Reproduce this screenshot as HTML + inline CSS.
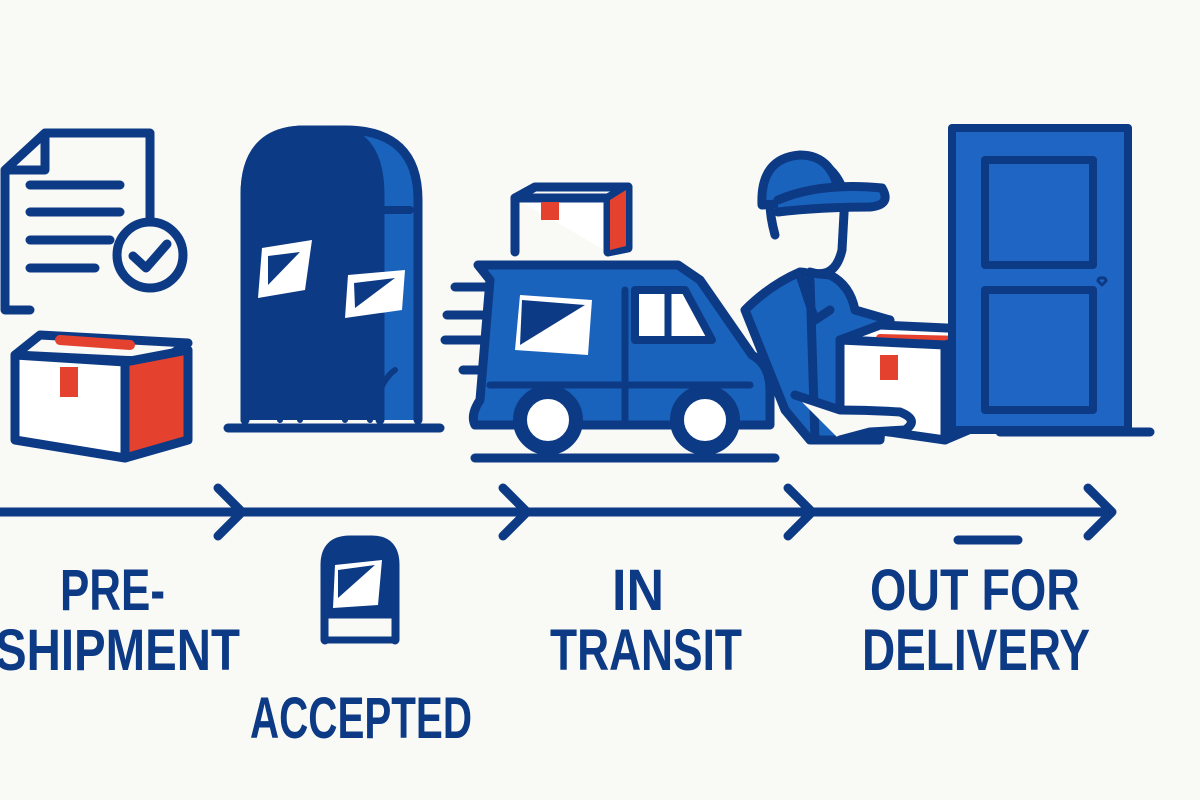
<!DOCTYPE html>
<html><head><meta charset="utf-8"><style>
html,body{margin:0;padding:0;background:#f9f9f6;}
svg{display:block}
text{font-family:"Liberation Sans",sans-serif;font-weight:bold;fill:#0d3a85;}
</style></head><body>
<svg width="1200" height="800" viewBox="0 0 1200 800" xmlns="http://www.w3.org/2000/svg">
<rect width="1200" height="800" fill="#f9f9f6"/>
<g stroke="#0d3a85" stroke-width="9" stroke-linecap="round" stroke-linejoin="round" fill="none">
<!-- document -->
<path d="M5 170 L45 133 L150 133 L150 225 M5 170 L5 310 L30 310 M5 170 L45 170 L45 133" fill="#f9f9f6"/>
<path d="M30 185 H120 M30 212 H120 M30 240 H110 M30 268 H95"/>
<circle cx="150" cy="255" r="33" fill="#f9f9f6"/>
<path d="M133 256 L146 268 L167 244"/>
<!-- box1 -->
<path d="M15 355 L40 335 L188 343 L160 362 Z" fill="#f9f9f6"/>
<path d="M60 340 L130 345" stroke="#e5412f" stroke-width="10"/>
<path d="M15 355 L15 440 L125 458 L125 362 Z" fill="#fff"/>
<path d="M125 362 L188 350 L188 440 L125 458 Z" fill="#e5412f"/>
<rect x="60" y="367" width="18" height="30" fill="#e5412f" stroke="none"/>
<!-- mailbox -->
<path d="M245 420 L245 195 Q245 130 305 130 L345 130 Q418 130 418 200 L418 420" fill="#1a63bd"/>
<path d="M245 420 L245 195 Q245 130 305 130 L330 130 Q380 130 380 195 L380 420" fill="#0d3a85"/>
<path d="M345 210 H410" stroke-width="8"/>
<path d="M245 370 Q265 380 280 420 M395 370 Q380 380 370 420 M300 395 L300 420 M345 395 L345 420" stroke-width="6"/>
<path d="M228 428 H440"/>
<path d="M262 248 L312 240 L305 290 L258 298 Z" fill="#fff" stroke="none"/>
<path d="M348 275 L405 270 L402 310 L345 318 Z" fill="#fff" stroke="none"/>
<path d="M268 256 L300 252 L268 285 Z M354 283 L395 278 L355 308 Z" fill="#0d3a85" stroke="none"/>
<!-- small box -->
<path d="M515 198 L535 187 L628 187 L608 198 Z" fill="#f9f9f6"/>
<path d="M515 198 L515 252 M515 198 H608 L608 252 M608 198 L628 187 L628 248 L608 252" fill="#fff"/>
<path d="M610 200 L626 190 L626 246 L610 250 Z" fill="#e5412f" stroke="none"/>
<rect x="541" y="202" width="18" height="18" fill="#e5412f" stroke="none"/>
<!-- speed lines -->
<path d="M455 287 H488 M447 315 H485 M445 340 H485 M463 370 H482"/>
<!-- van -->
<path d="M478 265 H678 L700 280 L752 355 Q770 365 770 390 L770 425 L475 425 Q470 415 480 400 L490 280 Z" fill="#1a63bd"/>
<path d="M635 290 H685 L712 340 H635 Z" fill="#fff" stroke-width="8"/>
<path d="M668 292 V340" stroke-width="7"/>
<path d="M490 385 H750" stroke-width="7"/>
<path d="M625 290 V420" stroke-width="7"/>
<path d="M520 295 L592 300 L588 355 L515 350 Z" fill="#fff" stroke="none"/>
<path d="M522 300 L585 305 L520 345 Z" fill="#0d3a85" stroke="none"/>
<circle cx="548" cy="420" r="28" fill="#fff" stroke-width="14"/>
<circle cx="705" cy="420" r="28" fill="#fff" stroke-width="14"/>
<path d="M475 458 H775"/>
<!-- person -->
<path d="M745 310 Q770 285 800 272 L830 275 Q850 285 855 310 L890 320 L880 440 L810 440 L785 410 Z" fill="#1a63bd"/>
<path d="M775 235 Q760 180 790 165 Q830 150 845 195 L842 250 Q835 280 810 272" fill="#f9f9f6"/>
<path d="M762 205 Q760 158 800 155 Q835 155 840 200 Z" fill="#1a63bd"/>
<path d="M778 200 Q820 182 882 188 Q892 205 870 207 Q820 207 778 212" fill="#1a63bd"/>
<path d="M800 275 L815 320 L830 310 M810 280 L815 440"/>
<!-- box3 -->
<path d="M840 340 L880 325 L990 330 L955 345 Z" fill="#fff"/>
<path d="M880 338 L965 340" stroke="#e5412f" stroke-width="8"/>
<path d="M840 340 L840 425 L945 440 L945 345 Z" fill="#fff"/>
<path d="M945 345 L992 332 L992 420 L945 440 Z" fill="#e5412f"/>
<rect x="880" y="355" width="18" height="25" fill="#e5412f" stroke="none"/>
<path d="M795 395 L840 410 Q870 410 900 412 Q920 420 905 430 L870 432 L840 440" fill="#f9f9f6"/>
<!-- door -->
<rect x="952" y="128" width="176" height="302" fill="#1f66c4" stroke-width="8"/>
<rect x="985" y="160" width="108" height="105" fill="#1f66c4" stroke-width="8"/>
<rect x="985" y="290" width="108" height="120" fill="#1f66c4" stroke-width="8"/>
<path d="M1000 432 H1150"/>
<path d="M1102 285 l-4-4 a3 3 0 0 1 4-3 a3 3 0 0 1 4 3 z" stroke-width="3"/>
<!-- timeline -->
<path d="M0 512 H1108"/>
<path d="M218 488 L242 512 L218 536 M503 488 L527 512 L503 536 M788 488 L812 512 L788 536 M1088 488 L1112 512 L1088 536"/>
<path d="M958 540 H1018"/>
<!-- mini mailbox -->
<path d="M325 640 L325 565 Q325 540 350 540 L372 540 Q395 540 395 565 L395 640" fill="#0d3a85"/>
<path d="M335 565 L382 560 L378 605 L333 608 Z" fill="#fff" stroke="none"/>
<path d="M338 570 L375 565 L338 598 Z" fill="#0d3a85" stroke="none"/>
<rect x="325" y="615" width="70" height="25" fill="#f9f9f6" stroke-width="7"/>
</g>
<text x="60" y="610" font-size="58" textLength="105" lengthAdjust="spacingAndGlyphs">PRE-</text>
<text x="-5" y="670" font-size="58" textLength="245" lengthAdjust="spacingAndGlyphs">SHIPMENT</text>
<text x="250" y="738" font-size="58" textLength="222" lengthAdjust="spacingAndGlyphs">ACCEPTED</text>
<text x="612" y="610" font-size="58" textLength="52" lengthAdjust="spacingAndGlyphs">IN</text>
<text x="550" y="670" font-size="58" textLength="192" lengthAdjust="spacingAndGlyphs">TRANSIT</text>
<text x="870" y="610" font-size="58" textLength="210" lengthAdjust="spacingAndGlyphs">OUT FOR</text>
<text x="862" y="670" font-size="58" textLength="228" lengthAdjust="spacingAndGlyphs">DELIVERY</text>
</svg>
</body></html>
